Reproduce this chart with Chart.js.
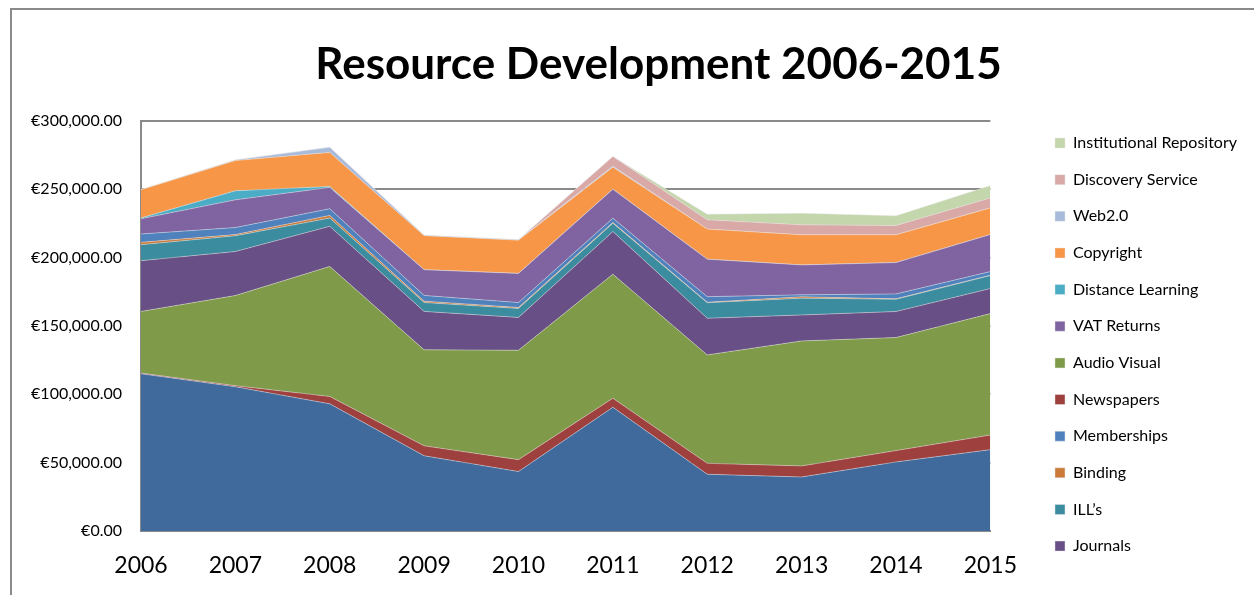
<!DOCTYPE html>
<html>
<head>
<meta charset="utf-8">
<script src="https://cdn.jsdelivr.net/npm/chart.js@4.4.1/dist/chart.umd.min.js"></script>
<style>
  html, body { margin: 0; padding: 0; background: #fff; width: 1254px; height: 595px; overflow: hidden; }
  #frame { position: absolute; left: 10px; top: 8px; width: 1400px; height: 800px; border: 2px solid #8a8a8a; box-sizing: border-box; }
  #wrap { position: absolute; left: 0; top: 0; width: 1254px; height: 595px; }
</style>
</head>
<body>
<div id="frame"></div>
<div id="wrap"><canvas id="c" width="1254" height="595"></canvas></div>
<script>
const years = ['2006','2007','2008','2009','2010','2011','2012','2013','2014','2015'];
const books       = [115000,105500,93000,55000,43500,90500,41500,39500,50500,59500];
const newspapers  = [500,800,5400,7300,8700,6600,8000,8100,8300,10700];
const audioVisual = [45100,65900,95100,70200,80000,90700,79300,91400,82700,88800];
const journals    = [37100,32200,29300,28100,24000,31200,26800,19000,19000,18300];
const ills        = [11700,11500,6100,6500,6600,6100,11400,12300,9000,9500];
const binding     = [1700,900,1900,1000,700,500,300,1000,300,300];
const memberships = [6100,5100,4900,4200,3600,3200,4100,1400,3600,2600];
const vatReturns  = [11200,20300,15600,18800,21300,21200,27400,21900,22900,27100];
const distance    = [600,6600,700,0,0,0,0,0,0,0];
const copyright   = [20600,22100,24900,24900,24300,16100,22000,22000,20300,19500];
const web20       = [0,500,3700,300,300,700,0,0,0,0];
const discovery   = [0,0,0,0,0,7100,6800,7300,6800,7300];
const repository  = [0,0,0,0,0,0,4100,8500,7100,9000];
const yTicks = [0,50000,100000,150000,200000,250000,300000];

const series = [
  ['Books', books, '#40699c'],
  ['Newspapers', newspapers, '#9e413e'],
  ['Audio Visual', audioVisual, '#7f9a48'],
  ['Journals', journals, '#684f85'],
  ['ILL\u2019s', ills, '#3c8c9f'],
  ['Binding', binding, '#cc7a38'],
  ['Memberships', memberships, '#4f81bd'],
  ['VAT Returns', vatReturns, '#8064a2'],
  ['Distance Learning', distance, '#4bacc6'],
  ['Copyright', copyright, '#f79646'],
  ['Web2.0', web20, '#a9bbda'],
  ['Discovery Service', discovery, '#d9a9a8'],
  ['Institutional Repository', repository, '#c4d6ac']
];
const legendOrder = ['Institutional Repository','Discovery Service','Web2.0','Copyright','Distance Learning','VAT Returns','Audio Visual','Newspapers','Memberships','Binding','ILL\u2019s','Journals'];

const datasets = series.map(([label, data, color], i) => ({
  label, data,
  backgroundColor: color,
  borderColor: 'rgba(235,235,235,0.55)',
  borderWidth: 0.8,
  pointRadius: 0,
  tension: 0,
  fill: i === 0 ? 'origin' : '-1'
}));

// shift the title so it sits where the original's title sits
const titleShift = {
  id: 'titleShift',
  afterLayout(chart) {
    const t = chart.titleBlock;
    if (t) { t.left += 20; t.right += 20; }
  }
};

const FONT = 'Lato, "Open Sans", sans-serif';
new Chart(document.getElementById('c'), {
  type: 'line',
  data: { labels: years, datasets },
  plugins: [titleShift],
  options: {
    responsive: false,
    animation: false,
    layout: { padding: { left: 30, right: 7, top: 10, bottom: 0 } },
    plugins: {
      tooltip: { enabled: false },
      title: {
        display: true,
        text: 'Resource Development 2006-2015',
        color: '#000',
        font: { family: FONT, size: 44, weight: 'bold' },
        padding: { top: 28, bottom: 30 }
      },
      legend: {
        position: 'right',
        align: 'start',
        maxWidth: 400,
        title: { display: true, text: ' ', font: { size: 12 }, padding: { top: 0, bottom: 90 } },
        labels: {
          color: '#000',
          font: { family: FONT, size: 16 },
          boxWidth: 10, boxHeight: 10,
          padding: 20.64,
          filter: (item) => legendOrder.includes(item.text),
          sort: (a, b) => legendOrder.indexOf(a.text) - legendOrder.indexOf(b.text)
        }
      }
    },
    scales: {
      x: {
        offset: false,
        afterFit: (s) => { s.height = 64; },
        grid: { display: false, drawTicks: false },
        border: { display: true, color: '#8a8a8a', width: 2 },
        ticks: { color: '#000', font: { family: FONT, size: 23 }, padding: 21, maxRotation: 0 }
      },
      y: {
        stacked: true,
        min: 0, max: 300000,
        afterBuildTicks: (s) => { s.ticks = yTicks.map(v => ({ value: v })); },
        afterFit: (s) => { s.width = 111; },
        grid: { color: '#8a8a8a', lineWidth: 2, drawTicks: false },
        border: { display: true, color: '#8a8a8a', width: 2 },
        ticks: {
          color: '#000', font: { family: FONT, size: 16 }, padding: 19,
          callback: (v) => '\u20ac' + Number(v).toLocaleString('en-US', { minimumFractionDigits: 2, maximumFractionDigits: 2 })
        }
      },
      gap: {
        position: 'right',
        display: true,
        afterFit: (s) => { s.width = 44; },
        grid: { display: false, drawTicks: false },
        border: { display: false },
        ticks: { display: false }
      }
    }
  }
});
</script>
</body>
</html>
